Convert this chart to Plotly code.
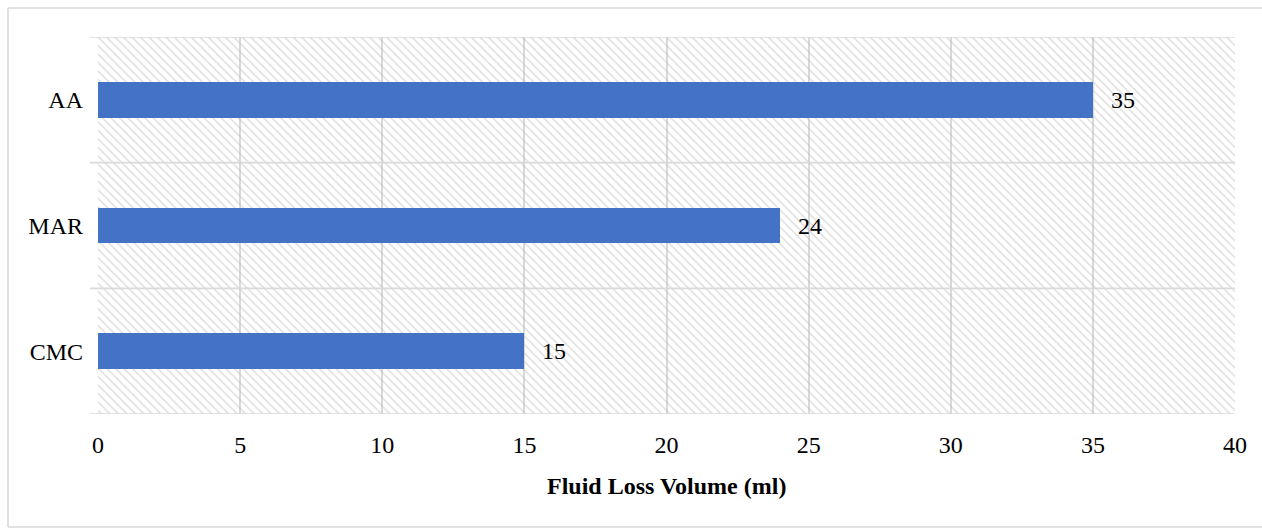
import plotly.graph_objects as go

# Fluid loss volume for each additive
additives = ["CMC", "MAR", "AA"]
fluid_loss_ml = [15, 24, 35]

x_max = 40
x_ticks = [0, 5, 10, 15, 20, 25, 30, 35, 40]

W, H = 1262, 529
L, R, T, B = 98, 27, 37, 115
plot_w = W - L - R
plot_h = H - T - B

FONT = "Liberation Serif"
GRID = "#d9d9d9"
BAR = "#4472C4"
FS = 24

y_pos = list(range(len(additives)))


def px_x(px):
    return (px - L) / plot_w


def px_y(py):
    return (T + plot_h - py) / plot_h


fig = go.Figure()

# Hatched backdrop of the plotting area (one full-height band per category)
fig.add_trace(go.Bar(
    x=[x_max] * len(additives),
    y=y_pos,
    orientation="h",
    width=1.0,
    marker=dict(
        color="rgba(0,0,0,0)",
        line=dict(width=0),
        pattern=dict(shape="\\", size=6, solidity=0.25,
                     fgcolor="#bcbcbc", fillmode="overlay"),
    ),
    hoverinfo="skip",
    showlegend=False,
))

# Data bars
fig.add_trace(go.Bar(
    x=fluid_loss_ml,
    y=y_pos,
    orientation="h",
    width=1 / 3.5,
    marker=dict(color=BAR, line=dict(width=0)),
    showlegend=False,
))

# Value labels at the bar ends
for yi, v in zip(y_pos, fluid_loss_ml):
    fig.add_annotation(
        x=v, y=yi, xref="x", yref="y",
        text=str(v), showarrow=False,
        xanchor="left", yanchor="middle", xshift=16,
        font=dict(family=FONT, size=FS, color="#000000"),
    )

# Horizontal category separators (with short ticks to the left)
tick_px = 8
for b in [i - 0.5 for i in range(len(additives) + 1)]:
    fig.add_shape(
        type="line", xref="paper", yref="y",
        x0=-tick_px / plot_w, x1=1, y0=b, y1=b,
        line=dict(color=GRID, width=1.6), layer="above",
    )

# Axis title
fig.add_annotation(
    x=0.5, y=px_y(486), xref="paper", yref="paper",
    text="<b>Fluid Loss Volume (ml)</b>", showarrow=False,
    xanchor="center", yanchor="middle",
    font=dict(family=FONT, size=FS, color="#000000"),
)

# Outer chart frame: top, left and bottom edges
frame = dict(color="#d9d9d9", width=1.6)
fig.add_shape(type="line", xref="paper", yref="paper",
              x0=px_x(8), x1=px_x(W), y0=px_y(8), y1=px_y(8),
              line=frame, layer="below")
fig.add_shape(type="line", xref="paper", yref="paper",
              x0=px_x(8), x1=px_x(8), y0=px_y(8), y1=px_y(527),
              line=frame, layer="below")
fig.add_shape(type="line", xref="paper", yref="paper",
              x0=px_x(8), x1=px_x(W), y0=px_y(527), y1=px_y(527),
              line=frame, layer="below")

fig.update_layout(
    width=W, height=H,
    margin=dict(l=L, r=R, t=T, b=B, pad=0),
    paper_bgcolor="white",
    plot_bgcolor="white",
    barmode="overlay",
    bargap=0,
    font=dict(family=FONT, size=FS, color="#000000"),
    xaxis=dict(
        range=[0, x_max],
        tickvals=x_ticks,
        ticktext=[str(t) for t in x_ticks],
        showgrid=True, gridcolor=GRID, gridwidth=1.6,
        zeroline=False, showline=False,
        ticks="", ticklabelstandoff=14,
        tickfont=dict(family=FONT, size=FS),
        fixedrange=True,
    ),
    yaxis=dict(
        range=[-0.5, len(additives) - 0.5],
        tickvals=y_pos,
        ticktext=additives,
        showgrid=False, zeroline=False, showline=False,
        ticks="", ticklabelstandoff=14,
        tickfont=dict(family=FONT, size=FS),
        fixedrange=True,
    ),
)

fig.write_html("out.html")
